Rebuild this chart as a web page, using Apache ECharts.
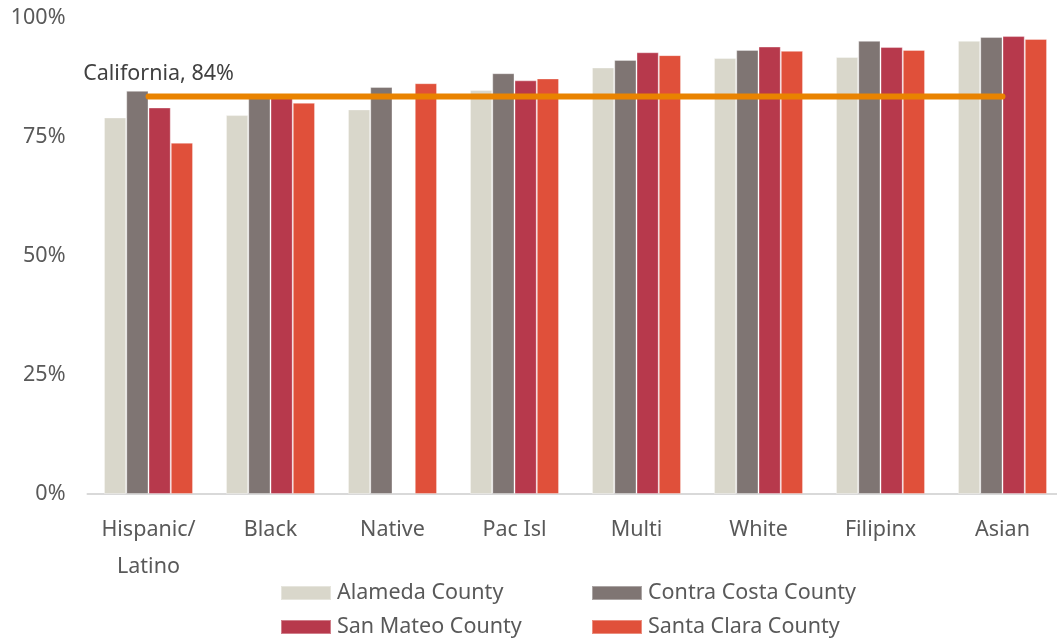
<!DOCTYPE html>
<html>
<head>
<meta charset="utf-8">
<script src="https://cdn.jsdelivr.net/npm/echarts@6/dist/echarts.min.js"></script>
<style>
  html, body { margin: 0; padding: 0; background: #ffffff; }
  #chart { width: 1057px; height: 638px; }
</style>
</head>
<body>
<div id="chart"></div>
<script>
// Share of students by race/ethnicity, by county, against the statewide rate
const categories = ['Hispanic/\nLatino', 'Black', 'Native', 'Pac Isl', 'Multi', 'White', 'Filipinx', 'Asian'];
const alameda     = [79.1, 79.6, 80.8, 84.9, 89.6, 91.6, 91.8, 95.2];
const contraCosta = [84.7, 83.4, 85.5, 88.4, 91.2, 93.3, 95.2, 96.0];
const sanMateo    = [81.2, 83.4, null, 86.9, 92.8, 94.0, 93.9, 96.2];
const santaClara  = [73.8, 82.2, 86.3, 87.3, 92.2, 93.1, 93.3, 95.6];
const california  = 83.5;
const yTicks = [0, 25, 50, 75, 100];

const FONT = 'Noto Sans';
const FS = 21.5;
const TEXT = '#595959';

const countyColors = {
  'Alameda County': '#D9D7CB',
  'Contra Costa County': '#7F7573',
  'San Mateo County': '#B7394C',
  'Santa Clara County': '#E0503A'
};

// Legend laid out as a 2x2 grid: one single-item legend per cell
const legendCells = [
  { name: 'Alameda County', left: 280, top: 582 },
  { name: 'Contra Costa County', left: 591, top: 582 },
  { name: 'San Mateo County', left: 280, top: 616 },
  { name: 'Santa Clara County', left: 591, top: 616 }
];

function barSeries(name, values) {
  return {
    name: name,
    type: 'bar',
    data: values,
    barGap: '0%',
    barCategoryGap: '27%',
    itemStyle: {
      color: countyColors[name],
      borderColor: 'rgba(255,255,255,0.35)',
      borderWidth: 1
    },
    emphasis: { disabled: true }
  };
}

const chart = echarts.init(document.getElementById('chart'), null, { renderer: 'canvas' });

chart.setOption({
  animation: false,
  backgroundColor: '#ffffff',
  textStyle: { fontFamily: FONT },
  // the plot runs a few pixels past the right edge of the canvas
  grid: { left: 87.5, width: 976, top: 18, bottom: 144, containLabel: false, outerBoundsMode: 'none' },
  legend: legendCells.map(c => ({
    left: c.left, top: c.top,
    padding: 0,
    itemWidth: 50, itemHeight: 14,
    icon: 'rect',
    data: [c.name],
    textStyle: { fontFamily: FONT, fontSize: FS, color: TEXT, padding: [0, 0, 0, 1] }
  })),
  xAxis: {
    type: 'category',
    data: categories,
    axisLine: { lineStyle: { color: '#D9D9D9', width: 2 } },
    axisTick: { show: false },
    axisLabel: {
      fontFamily: FONT, fontSize: FS, color: TEXT,
      lineHeight: 37, margin: 17, interval: 0
    }
  },
  yAxis: {
    type: 'value',
    min: yTicks[0], max: yTicks[yTicks.length - 1], interval: 25,
    splitLine: { show: false },
    axisLine: { show: false },
    axisTick: { show: false },
    axisLabel: {
      fontFamily: FONT, fontSize: FS, color: TEXT, margin: 22,
      formatter: v => v + '%'
    }
  },
  series: [
    barSeries('Alameda County', alameda),
    barSeries('Contra Costa County', contraCosta),
    barSeries('San Mateo County', sanMateo),
    barSeries('Santa Clara County', santaClara),
    {
      name: 'California',
      type: 'line',
      data: categories.map((c, i) => ({
        value: california,
        label: i === 0 ? {
          show: true,
          position: 'top',
          distance: 11,
          offset: [10, 0],
          fontFamily: FONT, fontSize: FS, color: '#404040',
          formatter: 'California, ' + Math.round(california) + '%'
        } : { show: false }
      })),
      symbol: 'circle',
      symbolSize: 1,
      showSymbol: true,
      itemStyle: { color: '#E98300' },
      lineStyle: { color: '#E98300', width: 6, cap: 'round' },
      z: 5,
      emphasis: { disabled: true },
      silent: true
    }
  ]
});
</script>
</body>
</html>
